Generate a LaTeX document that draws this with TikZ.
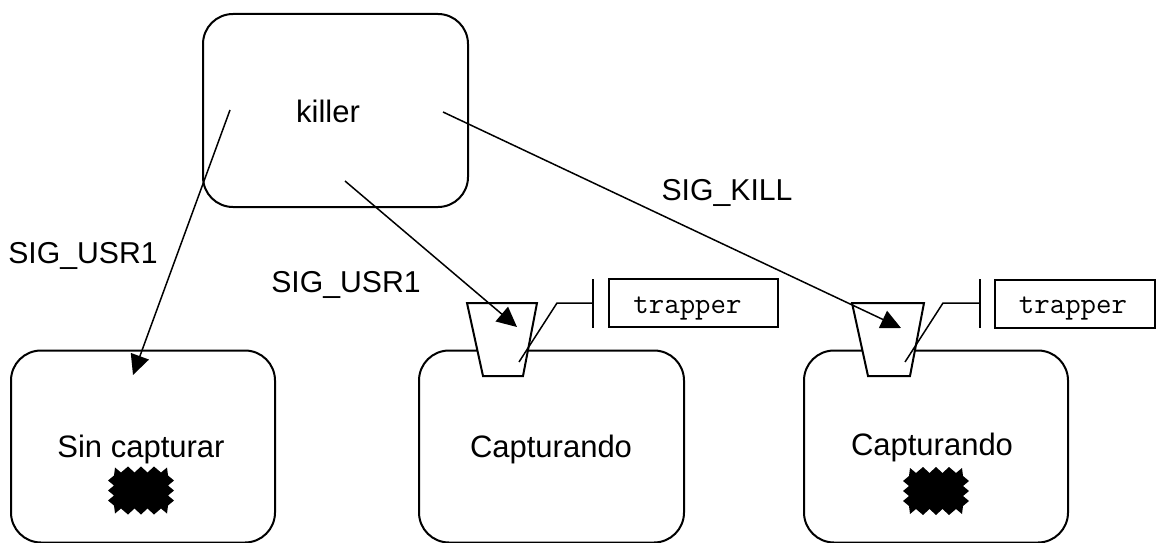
\documentclass[tikz,border=0pt]{standalone}
\usepackage{fontspec}
\setmainfont{Liberation Sans}
\usetikzlibrary{arrows.meta}
\tikzset{
  x=1pt,y=-1pt,
  procbox/.style={draw,rounded corners=30pt,minimum width=#1,minimum height=192pt,inner sep=0pt},
  lbl/.style={font=\fontsize{31}{36}\selectfont,inner sep=0pt},
  siglbl/.style={font=\fontsize{30.2}{36}\selectfont,inner sep=0pt},
  trapbox/.style={draw,font=\ttfamily\fontsize{30}{32}\selectfont,minimum height=48pt,inner sep=0pt},
  sig/.style={-{Triangle[length=20pt,width=19pt]},line width=1.5pt},
  cup/.style={draw,fill=white,line join=miter},
  wire/.style={line width=1.5pt},
  burst/.pic={\fill (-26,-23)--(-20,-18)--(-13,-24)--(-6.5,-18)--(0,-24)--(6.5,-18)--(13,-24)--(20,-18)--(26,-23)--(27,-15)--(33,-10)--(27,-5)--(33,0)--(27,5)--(33,10)--(27,15)--(26,23)--(20,18)--(13,24)--(6.5,18)--(0,24)--(-6.5,18)--(-13,24)--(-20,18)--(-26,23)--(-27,15)--(-33,10)--(-27,5)--(-33,0)--(-27,-5)--(-33,-10)--(-27,-15)--cycle;}
}
\begin{document}
\begin{tikzpicture}[line width=2pt]
\useasboundingbox (0,0) rectangle (1156,543);
\fill[white] (0,0) rectangle (1156,543);
% processes
\node[procbox=265pt,minimum height=193pt] (killerbox) at (335.5,110.5) {};
\node[procbox=264pt] (sinbox) at (143,446.5) {};
\node[procbox=265pt] (capA) at (551.5,446.5) {};
\node[procbox=264pt] (capB) at (936,446.5) {};
\node[lbl] (killer) at (328,111) {killer};
\node[lbl] (sin) at (141,449) {Sin capturar};
\node[lbl] (capAt) at (551,449) {Capturando};
\node[lbl] (capBt) at (932,447) {Capturando};
% receivers
\draw[cup] (467,303)--(537,303)--(523,376)--(483,376)--cycle;
\draw[cup] (852,303)--(924,303)--(910,376)--(868,376)--cycle;
% handlers
\node[trapbox,minimum width=169pt] (trapA) at (693.5,303) {\hspace*{-12pt}\raisebox{-10pt}[0pt][0pt]{trapper}};
\node[trapbox,minimum width=160pt] (trapB) at (1075,303.5) {\hspace*{-4pt}\raisebox{-10pt}[0pt][0pt]{trapper}};
\coordinate (barAt) at (593,279);
\coordinate (barAb) at (593,328);
\coordinate (barBt) at (980,279);
\coordinate (barBb) at (980,328);
\draw (barAt)--(barAb);
\draw (barBt)--(barBb);
\coordinate (wireA) at (519,362);
\coordinate (wireB) at (905,362);
\draw[wire] (wireA)--(557,303)--(593,303);
\draw[wire] (wireB)--(943,303)--(980,303);
% signals
\coordinate (s1) at (230,110);
\coordinate (t1) at (133,375);
\coordinate (s2) at (345,181);
\coordinate (t2) at (517,327);
\coordinate (s3) at (443,112);
\coordinate (t3) at (901,328);
\draw[sig] (s1)--(t1);
\draw[sig] (s2)--(t2);
\draw[sig] (s3)--(t3);
\node[siglbl] (l1) at (83,256) {SIG\_USR1};
\node[siglbl] (l2) at (346,285) {SIG\_USR1};
\node[siglbl] (l3) at (727,193) {SIG\_KILL};
% explosions
\pic at (141,490.5) {burst};
\pic at (936,491) {burst};
\end{tikzpicture}
\end{document}
